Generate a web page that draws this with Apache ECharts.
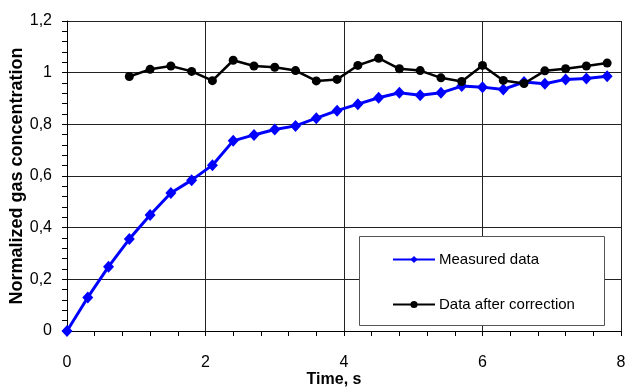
<!DOCTYPE html>
<html>
<head>
<meta charset="utf-8">
<script src="https://cdn.jsdelivr.net/npm/echarts@6/dist/echarts.min.js"></script>
<style>html,body{margin:0;padding:0;background:#fff;}#chart{width:625px;height:388px;}</style>
</head>
<body>
<div id="chart"></div>
<script>
const measuredTime = [0,0.3,0.6,0.9,1.2,1.5,1.8,2.1,2.4,2.7,3.0,3.3,3.6,3.9,4.2,4.5,4.8,5.1,5.4,5.7,6.0,6.3,6.6,6.9,7.2,7.5,7.8];
const measuredValues = [0,0.130,0.249,0.356,0.449,0.534,0.584,0.642,0.736,0.759,0.780,0.794,0.824,0.853,0.878,0.903,0.922,0.913,0.922,0.948,0.944,0.935,0.964,0.957,0.974,0.977,0.986];
const correctedTime = [0.9,1.2,1.5,1.8,2.1,2.4,2.7,3.0,3.3,3.6,3.9,4.2,4.5,4.8,5.1,5.4,5.7,6.0,6.3,6.6,6.9,7.2,7.5,7.8];
const correctedValues = [0.985,1.013,1.026,1.005,0.969,1.048,1.026,1.021,1.008,0.968,0.974,1.028,1.056,1.015,1.008,0.980,0.966,1.028,0.970,0.958,1.007,1.015,1.026,1.037];
const xTicks = [0,2,4,6,8];
const yTicks = [0,0.2,0.4,0.6,0.8,1,1.2];
const seriesNames = ['Measured data','Data after correction'];
const xTitle = 'Time, s';
const yTitle = 'Normalized gas concentration';

const FONT = "'Liberation Sans', Arial, sans-serif";
const chart = echarts.init(document.getElementById('chart'), null, {renderer:'canvas'});
const fmt = v => String(Math.round(v*10)/10).replace('.', ',');
chart.setOption({
  animation:false,
  backgroundColor:'#fff',
  grid:{left:67,right:4,top:21,bottom:57,containLabel:false,outerBoundsMode:'none'},
  graphic:[{type:'rect',z:3,left:359,top:236,shape:{width:245,height:89},style:{fill:'#fff',stroke:'#555',lineWidth:1}}],
  legend:{
    orient:'vertical',left:387,top:247,itemWidth:42,itemHeight:9,itemGap:30,z:5,
    textStyle:{fontFamily:FONT,fontSize:15,lineHeight:14,color:'#000',padding:[0,0,0,-1]},
    data:seriesNames
  },
  xAxis:{
    type:'value',min:xTicks[0],max:xTicks[xTicks.length-1],interval:2,
    name:xTitle,nameLocation:'middle',nameGap:41,nameMoveOverlap:false,
    nameTextStyle:{fontFamily:FONT,fontSize:16,fontWeight:'bold',color:'#000',padding:[0,20,0,0]},
    axisLine:{show:true,lineStyle:{color:'#000',width:1}},
    axisTick:{show:true,length:5,lineStyle:{color:'#000'}},
    minorTick:{show:true,splitNumber:5,length:5,lineStyle:{color:'#000'}},
    axisLabel:{fontFamily:FONT,fontSize:16,color:'#000',margin:24,formatter:fmt},
    splitLine:{show:true,lineStyle:{color:'#222',width:1}}
  },
  yAxis:{
    type:'value',min:yTicks[0],max:yTicks[yTicks.length-1],interval:0.2,
    name:yTitle,nameLocation:'middle',nameGap:41,nameRotate:90,nameMoveOverlap:false,
    nameTextStyle:{fontFamily:FONT,fontSize:18,fontWeight:'bold',color:'#000'},
    axisLine:{show:true,lineStyle:{color:'#000',width:1}},
    axisTick:{show:true,length:5,lineStyle:{color:'#000'}},
    minorTick:{show:true,splitNumber:5,length:5,lineStyle:{color:'#000'}},
    axisLabel:{fontFamily:FONT,fontSize:16,color:'#000',margin:15,formatter:fmt},
    splitLine:{show:true,lineStyle:{color:'#222',width:1}}
  },
  series:[
    {name:seriesNames[0],type:'line',data:measuredTime.map((t,i)=>[t,measuredValues[i]]),
     symbol:'diamond',symbolSize:[11,12],itemStyle:{color:'#0000ff'},lineStyle:{color:'#0000ff',width:3},z:3},
    {name:seriesNames[1],type:'line',data:correctedTime.map((t,i)=>[t,correctedValues[i]]),
     symbol:'circle',symbolSize:9,itemStyle:{color:'#000'},lineStyle:{color:'#000',width:2.5},z:4}
  ]
});
</script>
</body>
</html>
